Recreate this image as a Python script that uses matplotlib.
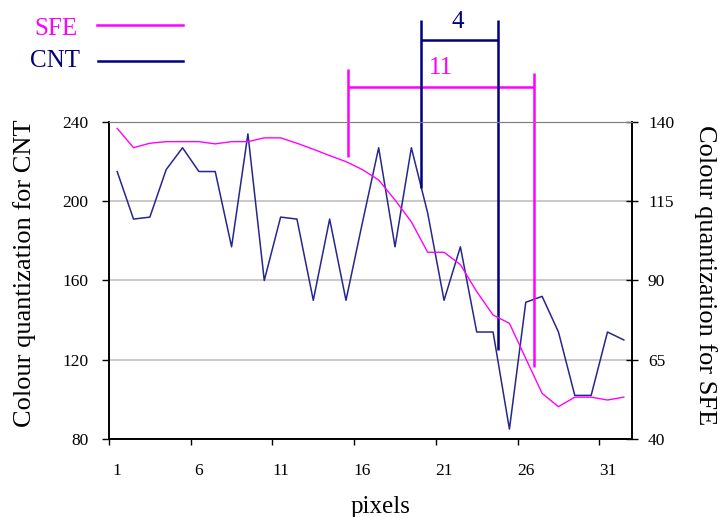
import numpy as np
import matplotlib.pyplot as plt

plt.rcParams['font.family'] = ['Liberation Serif', 'DejaVu Serif']

pixels = np.arange(1, 33)
cnt = [215, 191, 192, 216, 227, 215, 215, 177, 234, 160, 192, 191, 150, 191, 150, 189,
       227, 177, 227, 194, 150, 177, 134, 134, 85, 149, 152, 134, 102, 102, 134, 130]
sfe = [138, 131.9, 133.3, 133.8, 133.8, 133.8, 133.1, 133.8, 133.8, 135, 135, 133.3, 131.4, 129.4, 127.5, 125,
       121.7, 115.4, 108.5, 98.9, 98.9, 95, 86.5, 79.1, 76.5, 65.4, 54.4, 50.2, 53.2, 53.2, 52.3, 53.2]
xticklabels = ['1', '6', '11', '16', '21', '26', '31']

W, H = 718, 517
fig = plt.figure(figsize=(W / 100, H / 100), dpi=100)
ax = fig.add_axes([109 / W, 1 - 439 / H, 523 / W, 317 / H])
ax2 = ax.twinx()

navy = '#000080'
mag = '#ff00ff'

ax.set_ylim(80, 240)
ax.set_yticks([80, 120, 160, 200, 240])
ax.set_xlim(0.5, 32.5)
ax.set_xticks(np.arange(0.5, 31, 5))
ax.set_xticklabels([])
ax.set_xticks(np.arange(1, 32, 5), minor=True)
ax.set_xticklabels(xticklabels, minor=True)
ax.tick_params(axis='x', which='major', direction='out', length=4.5, width=1)
ax.tick_params(axis='x', which='minor', length=0, pad=17, labelsize=12.5)
ax.tick_params(axis='y', direction='out', length=5, width=1, pad=10, labelsize=12.5)
ax.grid(axis='y', color='#c0c0c0', lw=1.2)
ax.set_axisbelow(True)

ax2.set_ylim(40, 140)
ax2.set_yticks([40, 65, 90, 115, 140])
ax2.tick_params(axis='y', direction='inout', length=9, width=1, pad=7, labelsize=12.5)

for a in (ax, ax2):
    a.spines['top'].set_color('#808080')
    a.spines['left'].set_linewidth(1.2)
    a.spines['right'].set_linewidth(1.2)
    a.spines['bottom'].set_linewidth(1.2)

ax.plot(pixels, cnt, color='#26268f', lw=1.1, zorder=3)
ax2.plot(pixels, sfe, color=mag, lw=1.0, zorder=3)

# brackets
kw = dict(clip_on=False, zorder=5, lw=1.8, solid_capstyle='butt')
ax.plot([15.1, 15.1], [222.5, 266.6], color=mag, **kw)
ax.plot([26.5, 26.5], [116.2, 264.6], color=mag, **kw)
ax.plot([15.1, 26.5], [257.5, 257.5], color=mag, **kw)
ax.plot([19.6, 19.6], [206.5, 291.5], color=navy, **kw)
ax.plot([24.3, 24.3], [124.9, 291.5], color=navy, **kw)
ax.plot([19.6, 24.3], [281.4, 281.4], color=navy, **kw)
ax.text(21.82, 290.6, '4', color=navy, fontsize=18, ha='center', va='center')
ax.text(20.82, 267.1, '11', color=mag, fontsize=18, ha='center', va='center')

# legend
fig.text(77 / W, 1 - 29 / H, 'SFE', color=mag, fontsize=18, ha='right', va='center')
fig.text(80 / W, 1 - 61 / H, 'CNT', color=navy, fontsize=18, ha='right', va='center')
fig.add_artist(plt.Line2D([97 / W, 183 / W], [1 - 25 / H, 1 - 25 / H], color=mag, lw=1.8))
fig.add_artist(plt.Line2D([98 / W, 183 / W], [1 - 61 / H, 1 - 61 / H], color=navy, lw=1.8))

fig.text(25 / W, 1 - 273 / H, 'Colour quantization for CNT', fontsize=19, rotation=90,
         ha='center', va='center')
fig.text(705 / W, 1 - 275.5 / H, 'Colour quantization for SFE', fontsize=19, rotation=-90,
         ha='center', va='center')
fig.text(381 / W, 1 - 513 / H, 'pixels', fontsize=18, ha='center', va='baseline')

fig.savefig('out.png', dpi=100)
